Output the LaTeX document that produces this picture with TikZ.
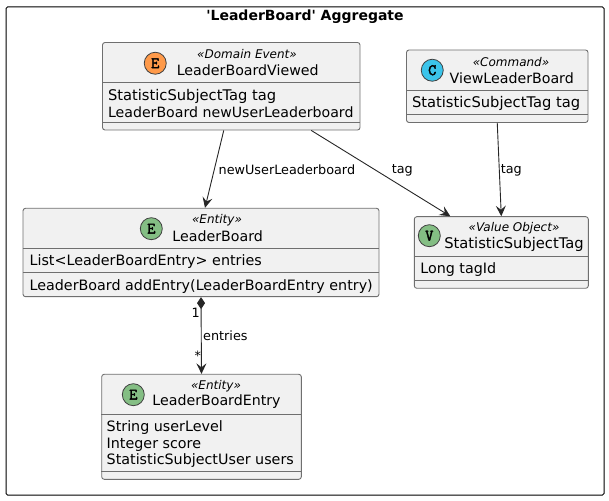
\documentclass[tikz,border=0pt]{standalone}
\usepackage{fontspec}
\setmainfont{DejaVu Sans}
\newfontfamily\icofont[FakeBold=2.5]{Latin Modern Mono}
\usetikzlibrary{arrows.meta}
\definecolor{boxfill}{HTML}{F1F1F1}
\definecolor{boxline}{HTML}{6F6F6F}
\definecolor{entityc}{HTML}{84BE84}
\definecolor{eventc}{HTML}{FF9A4A}
\definecolor{commandc}{HTML}{3BC4EA}
\tikzstyle{frame} = [draw=black,line width=1pt,rounded corners=1.5pt,inner sep=0]
\tikzstyle{box} = [draw=boxline,fill=boxfill,line width=.9pt,rounded corners=2.5pt,inner sep=0]
\tikzstyle{ico} = [draw=black!75,line width=.8pt,circle,minimum size=22pt,inner sep=0,text=black,font=\fontsize{16}{16}\selectfont\icofont]
\tikzstyle{stereo} = [inner sep=0,font=\fontsize{12}{14}\selectfont\itshape]
\tikzstyle{cname} = [inner sep=0,font=\fontsize{14.2}{16}\selectfont]
\tikzstyle{attr} = [inner sep=0,anchor=west,align=left,font=\fontsize{14.3}{16.4}\selectfont]
\tikzstyle{sep} = [draw=boxline,line width=.9pt]
\tikzstyle{lbl} = [inner sep=0,anchor=west,font=\fontsize{12.8}{15}\selectfont]
\tikzstyle{link} = [every edge/.style={draw=black!85}]

\begin{document}
\begin{tikzpicture}[x=1pt,y=1pt,->,>={Stealth[length=10.5pt,width=10pt,inset=4pt]},node distance=30,line width=.9pt]
\useasboundingbox (0,0) rectangle (609,500);

\node[frame,minimum width=598,minimum height=488] (frame) at (305,249) {};
\node[inner sep=0,font=\fontsize{14}{16}\selectfont\bfseries] (title) at ([yshift=-10]frame.north) {\textquotesingle LeaderBoard\textquotesingle{} Aggregate};

\node[box,minimum width=257.5,minimum height=87.5] (LBV) at (231.25,413.75) {};
\node[box,minimum width=181.5,minimum height=72.5] (VLB) [right of = LBV, xshift = 236] {};
\node[box,minimum width=356,minimum height=88.4] (LB) [below of = LBV, xshift = -30.25, yshift = -136.25] {};
\node[box,minimum width=174,minimum height=71.6] (SST) [right of = LB, xshift = 270.3] {};
\node[box,minimum width=199.6,minimum height=105] (LBE) [below of = LB, xshift = .5, yshift = -144.3] {};

% class headers
\node[ico,fill=eventc] (LBV_ico) [left of = LBV, xshift = -46, yshift = 23] {E};
\node[stereo] (LBV_st) [above of = LBV, xshift = 15.75, yshift = 2.55] {«Domain Event»};
\node[cname] (LBV_name) [above of = LBV, xshift = 16.5, yshift = -13.5] {LeaderBoardViewed};
\node[ico,fill=commandc] (VLB_ico) [left of = VLB, xshift = -35, yshift = 16] {C};
\node[stereo] (VLB_st) [above of = VLB, xshift = 13.75, yshift = -5.45] {«Command»};
\node[cname] (VLB_name) [above of = VLB, xshift = 14.5, yshift = -21.8] {ViewLeaderBoard};
\node[ico,fill=entityc] (LB_ico) [left of = LB, xshift = -19.7, yshift = 23.8] {E};
\node[stereo] (LB_st) [above of = LB, xshift = 16, yshift = 2.5] {«Entity»};
\node[cname] (LB_name) [above of = LB, xshift = 16.7, yshift = -13.5] {LeaderBoard};
\node[ico,fill=entityc] (SST_ico) [left of = SST, xshift = -42, yshift = 16.8] {V};
\node[stereo] (SST_st) [above of = SST, xshift = 12.7, yshift = -5.8] {«Value Object»};
\node[cname,font=\fontsize{14.7}{16}\selectfont] (SST_name) [above of = SST, xshift = 12.7, yshift = -22] {StatisticSubjectTag};
\node[ico,fill=entityc] (LBE_ico) [left of = LBE, xshift = -38.2, yshift = 32.1] {E};
\node[stereo] (LBE_st) [above of = LBE, xshift = 14.5, yshift = 10.8] {«Entity»};
\node[cname] (LBE_name) [above of = LBE, xshift = 15, yshift = -5] {LeaderBoardEntry};

% members
\node[attr] (LBV_attr) at ([xshift=5.5,yshift=-17.2]LBV.west) {{\fontsize{14.7}{16.4}\selectfont StatisticSubjectTag tag}\\{\fontsize{14.15}{16.4}\selectfont LeaderBoard newUserLeaderboard}};
\node[attr,font=\fontsize{14.7}{16.4}\selectfont] (VLB_attr) at ([xshift=5.5,yshift=-17]VLB.west) {StatisticSubjectTag tag};
\node[attr] (LB_attr) at ([xshift=6.6,yshift=-9]LB.west) {List<LeaderBoardEntry> entries};
\node[attr] (LB_meth) at ([xshift=6.6,yshift=-34]LB.west) {LeaderBoard addEntry(LeaderBoardEntry entry)};
\node[attr] (SST_attr) at ([xshift=6,yshift=-17]SST.west) {Long tagId};
\node[attr] (LBE_attr) at ([xshift=5,yshift=-17.5]LBE.west) {String userLevel\\Integer score\\StatisticSubjectUser users};

\path[-,sep]
([yshift=3.75]LBV.west) edge ([yshift=3.75]LBV.east)
([yshift=-35.75]LBV.west) edge ([yshift=-35.75]LBV.east)
([yshift=-4.45]VLB.west) edge ([yshift=-4.45]VLB.east)
([yshift=-28.05]VLB.west) edge ([yshift=-28.05]VLB.east)
([yshift=4.2]LB.west) edge ([yshift=4.2]LB.east)
([yshift=-19.8]LB.west) edge ([yshift=-19.8]LB.east)
([yshift=-3.5]SST.west) edge ([yshift=-3.5]SST.east)
([yshift=-27.8]SST.west) edge ([yshift=-27.8]SST.east)
([yshift=12.1]LBE.west) edge ([yshift=12.1]LBE.east)
([yshift=-44.5]LBE.west) edge ([yshift=-44.5]LBE.east);

\path[link]
([xshift=-7.5]LBV.south) edge node[lbl,pos=.51,xshift=4] (lbl_new) {newUserLeaderboard} ([xshift=4]LB.north)
([xshift=80]LBV.south) edge node[lbl,pos=.465,xshift=15.5] (lbl_tag) {tag} ([xshift=-51]SST.north)
(VLB.south) edge node[lbl,pos=.51,xshift=1] (lbl_tag2) {tag} (SST.north)
(LB.south) edge [{Diamond[length=12pt,width=8pt]}->] node[lbl,pos=.5,xshift=1.5] (lbl_ent) {entries}
node[lbl,pos=.2,anchor=east,xshift=-1] (lbl_one) {1}
node[lbl,pos=.77,anchor=east] (lbl_many) {*} (LBE.north);

\end{tikzpicture}
\end{document}
